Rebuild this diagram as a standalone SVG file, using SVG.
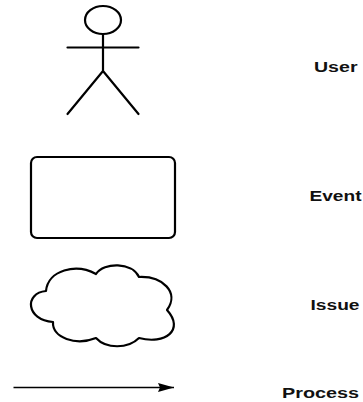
<svg xmlns="http://www.w3.org/2000/svg" width="363" height="402" viewBox="0 0 363 402">
<style>
.s{fill:none;stroke:#000;stroke-width:2.2;stroke-linecap:round;stroke-linejoin:round}
text{font-family:"Liberation Sans",Arial,sans-serif;font-weight:bold;font-size:14px;fill:#111}
</style>
<defs><marker id="a" markerUnits="userSpaceOnUse" markerWidth="16" markerHeight="9" refX="16" refY="4.500" orient="auto"><path d="M0 0L16 4.500L0 9L2 4.500Z" fill="#000"/></marker></defs>
<rect width="363" height="402" fill="#fff"/>
<g id="user-icon" class="s"><ellipse cx="103" cy="20" rx="18" ry="14"/><path d="M103 34V71M67.500 47.500H138.500M103 71L67.500 114M103 71L138.500 114"/></g>
<g id="event-icon"><rect class="s" x="31" y="157" width="144" height="81" rx="6"/></g>
<g id="issue-icon"><path class="s" d="M46 291C48 270 76 263 96 274C104 262 132 262 139 277C162 276 180 292 167 310C185 330 165 345 139 338C128 349 106 349 96 338C76 346 52 338 53 322C26 320 24 293 46 291Z"/></g>
<g id="connectors"><path d="M13.500 387.500H174" fill="none" stroke="#000" stroke-width="1.300" marker-end="url(#a)"/></g>
<g id="label-user"><text x="314" y="72" textLength="43.500" lengthAdjust="spacingAndGlyphs">User</text></g>
<g id="label-event"><text x="309.500" y="200.500" textLength="52" lengthAdjust="spacingAndGlyphs">Event</text></g>
<g id="label-issue"><text x="310.500" y="310" textLength="49" lengthAdjust="spacingAndGlyphs">Issue</text></g>
<g id="label-process"><text x="282" y="397.500" textLength="77" lengthAdjust="spacingAndGlyphs">Process</text></g>
</svg>
